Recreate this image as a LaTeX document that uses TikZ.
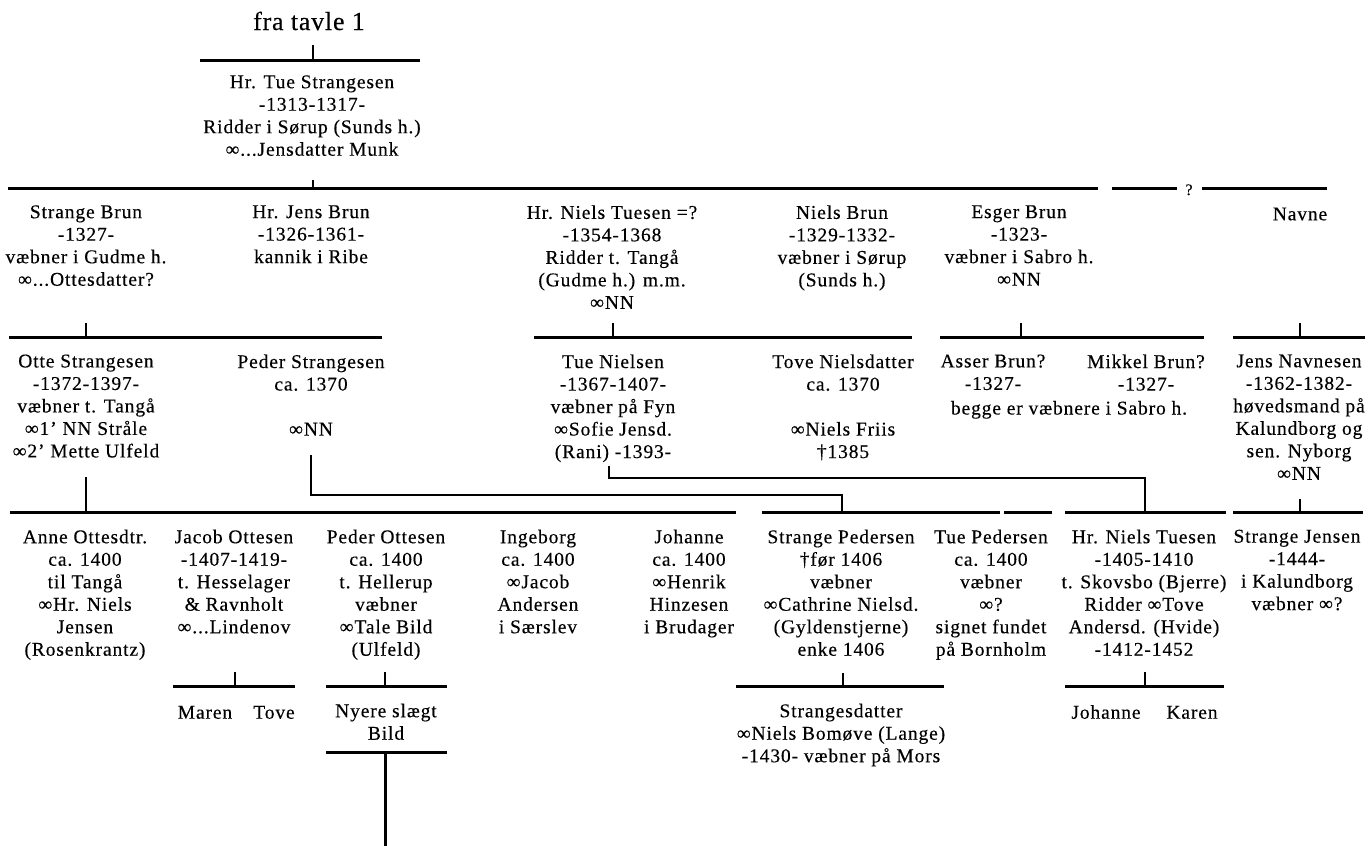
\documentclass[tikz,border=0pt]{standalone}
\usepackage{fontspec}
\setmainfont{Liberation Serif}[LetterSpace=4.5,FakeBold=0.3]
\newcommand\fsnorm{\fontsize{19.5}{22.5}\selectfont}
\newcommand\fsbig{\addfontfeatures{LetterSpace=3}\fontsize{26}{30}\selectfont}
\newcommand\fssmall{\fontsize{16}{18}\selectfont}
\begin{document}
\begin{tikzpicture}[x=1pt,y=-1pt,
  bar/.style={line width=3pt},
  tick/.style={line width=2pt},
  link/.style={line width=2.6pt},
  person/.style={align=center,anchor=north,inner sep=0pt,outer sep=0pt,font=\fsnorm,
    yshift=-2pt,execute at begin node={\rule{0pt}{15pt}}}]
\useasboundingbox (0,0) rectangle (1371,846);

% ---- generation 0 ----
\node[anchor=base,inner sep=0pt,font=\fsbig] (fra) at (309,30) {fra tavle 1};
\coordinate (b1L) at (200,60); \coordinate (b1R) at (420,60);
\draw[bar] (b1L) -- (b1R);
\coordinate (t1) at (313,45);
\draw[tick] (t1) -- (t1 |- b1L);

% ---- generation 1 ----
\node[person] (tue) at (312,73.3) {Hr. Tue Strangesen\\-1313-1317-\\Ridder i Sørup (Sunds h.)\\∞...Jensdatter Munk};
\coordinate (b2L) at (8,188); \coordinate (b2R) at (1098,188);
\draw[bar] (b2L) -- (b2R);
\coordinate (t2) at (313,180);
\draw[tick] (t2) -- (t2 |- b2L);
\coordinate (q1L) at (1112,188); \coordinate (q1R) at (1177,188);
\coordinate (q2L) at (1202,188); \coordinate (q2R) at (1327,188);
\draw[bar] (q1L) -- (q1R);
\draw[bar] (q2L) -- (q2R);
\node[anchor=base,inner sep=0pt,font=\fssmall] (qm) at (1189,195) {?};

% ---- generation 2 ----
\node[person] (sb) at (86,203.3) {Strange Brun\\-1327-\\væbner i Gudme h.\\∞...Ottesdatter?};
\node[person] (jb) at (311,203.3) {Hr. Jens Brun\\-1326-1361-\\kannik i Ribe};
\node[person] (nt) at (612,203.3) {Hr. Niels Tuesen =?\\-1354-1368\\Ridder t. Tangå\\(Gudme h.) m.m.\\∞NN};
\node[person] (nb) at (842,203.3) {Niels Brun\\-1329-1332-\\væbner i Sørup\\(Sunds h.)};
\node[person] (eb) at (1019,203.3) {Esger Brun\\-1323-\\væbner i Sabro h.\\∞NN};
\node[person] (nv) at (1300,203.3) {Navne};

% bars under generation 2
\coordinate (c1L) at (9,337.5);    \coordinate (c1R) at (382,337.5);
\coordinate (c2L) at (534,337.5);  \coordinate (c2R) at (912,337.5);
\coordinate (c3L) at (940,337.5);  \coordinate (c3R) at (1204,337.5);
\coordinate (c4L) at (1233,337.5); \coordinate (c4R) at (1365,337.5);
\draw[bar] (c1L) -- (c1R);
\draw[bar] (c2L) -- (c2R);
\draw[bar] (c3L) -- (c3R);
\draw[bar] (c4L) -- (c4R);
\coordinate (u1) at (86,323);  \draw[tick] (u1) -- (u1 |- c1L);
\coordinate (u2) at (613,323); \draw[tick] (u2) -- (u2 |- c2L);
\coordinate (u3) at (1021,323); \draw[tick] (u3) -- (u3 |- c3L);
\coordinate (u4) at (1300,323); \draw[tick] (u4) -- (u4 |- c4L);

% ---- generation 3 ----
\node[person] (os) at (86,352.5) {Otte Strangesen\\-1372-1397-\\væbner t. Tangå\\∞1' NN Stråle\\∞2' Mette Ulfeld};
\node[person] (ps) at (311,352.5) {Peder Strangesen\\ca. 1370\\[22.5pt]∞NN};
\node[person] (tn) at (613,352.5) {Tue Nielsen\\-1367-1407-\\væbner på Fyn\\∞Sofie Jensd.\\(Rani) -1393-};
\node[person] (tnd) at (843,352.5) {Tove Nielsdatter\\ca. 1370\\[22.5pt]∞Niels Friis\\†1385};
\node[person] (ab) at (993,352.5) {Asser Brun?\\-1327-};
\node[person] (mb) at (1146,352.5) {Mikkel Brun?\\-1327-};
\node[person] (begge) at (1069,397.5) {begge er væbnere i Sabro h.};
\node[person] (jn) at (1299,352.5) {Jens Navnesen\\-1362-1382-\\høvedsmand på\\Kalundborg og\\sen. Nyborg\\∞NN};

% bars under generation 3
\coordinate (d1L) at (10,512.5);   \coordinate (d1R) at (736,512.5);
\coordinate (d2L) at (762,512.5);  \coordinate (d2R) at (1000,512.5);
\coordinate (d3L) at (1004,512.5); \coordinate (d3R) at (1052,512.5);
\coordinate (d4L) at (1065,512.5); \coordinate (d4R) at (1226,512.5);
\coordinate (d5L) at (1233,512.5); \coordinate (d5R) at (1363,512.5);
\draw[bar] (d1L) -- (d1R);
\draw[bar] (d2L) -- (d2R);
\draw[bar] (d3L) -- (d3R);
\draw[bar] (d4L) -- (d4R);
\draw[bar] (d5L) -- (d5R);
\coordinate (v1) at (86,477);   \draw[tick] (v1) -- (v1 |- d1L);
\coordinate (v5) at (1300,499); \draw[tick] (v5) -- (v5 |- d5L);
% cross links
\coordinate (p1) at (311,455); \coordinate (p2) at (842,495);
\draw[link] (p1) |- (p2) -- (p2 |- d2L);
\coordinate (r1) at (609,466); \coordinate (r2) at (1145,478);
\draw[link] (r1) |- (r2) -- (r2 |- d4L);

% ---- generation 4 ----
\node[person] (ao) at (85,527.7) {Anne Ottesdtr.\\ca. 1400\\til Tangå\\∞Hr. Niels\\Jensen\\(Rosenkrantz)};
\node[person] (jo) at (234,527.7) {Jacob Ottesen\\-1407-1419-\\t. Hesselager\\\& Ravnholt\\∞...Lindenov};
\node[person] (po) at (386,527.7) {Peder Ottesen\\ca. 1400\\t. Hellerup\\væbner\\∞Tale Bild\\(Ulfeld)};
\node[person] (ing) at (538,527.7) {Ingeborg\\ca. 1400\\∞Jacob\\Andersen\\i Særslev};
\node[person] (joh) at (689,527.7) {Johanne\\ca. 1400\\∞Henrik\\Hinzesen\\i Brudager};
\node[person] (sp) at (841,527.7) {Strange Pedersen\\†før 1406\\væbner\\∞Cathrine Nielsd.\\(Gyldenstjerne)\\enke 1406};
\node[person] (tp) at (991,527.7) {Tue Pedersen\\ca. 1400\\væbner\\∞?\\signet fundet\\på Bornholm};
\node[person] (hnt) at (1144,527.7) {Hr. Niels Tuesen\\-1405-1410\\t. Skovsbo (Bjerre)\\Ridder ∞Tove\\Andersd. (Hvide)\\-1412-1452};
\node[person] (sj) at (1297,527.7) {Strange Jensen\\-1444-\\i Kalundborg\\væbner ∞?};

% bars under generation 4
\coordinate (e1L) at (173,686.7);  \coordinate (e1R) at (295,686.7);
\coordinate (e2L) at (326,686.7);  \coordinate (e2R) at (447,686.7);
\coordinate (e3L) at (736,686.7);  \coordinate (e3R) at (944,686.7);
\coordinate (e4L) at (1065,686.7); \coordinate (e4R) at (1224,686.7);
\draw[bar] (e1L) -- (e1R);
\draw[bar] (e2L) -- (e2R);
\draw[bar] (e3L) -- (e3R);
\draw[bar] (e4L) -- (e4R);
\coordinate (w1) at (235,672);  \draw[tick] (w1) -- (w1 |- e1L);
\coordinate (w2) at (385,672);  \draw[tick] (w2) -- (w2 |- e2L);
\coordinate (w3) at (843,673);  \draw[tick] (w3) -- (w3 |- e3L);
\coordinate (w4) at (1145,672); \draw[tick] (w4) -- (w4 |- e4L);

% ---- generation 5 ----
\node[person] (maren) at (205,701.7) {Maren};
\node[person] (tove) at (274,701.7) {Tove};
\node[person] (nyere) at (386,701.7) {Nyere slægt\\Bild};
\node[person] (sd) at (841,701.7) {Strangesdatter\\∞Niels Bomøve (Lange)\\-1430- væbner på Mors};
\node[person] (johanne) at (1106,701.7) {Johanne};
\node[person] (karen) at (1192,701.7) {Karen};

\coordinate (f1L) at (326,752.3); \coordinate (f1R) at (447,752.3);
\draw[bar] (f1L) -- (f1R);
\coordinate (x1) at (385,846);
\draw[bar] (x1 |- f1L) -- (x1);
\end{tikzpicture}
\end{document}
